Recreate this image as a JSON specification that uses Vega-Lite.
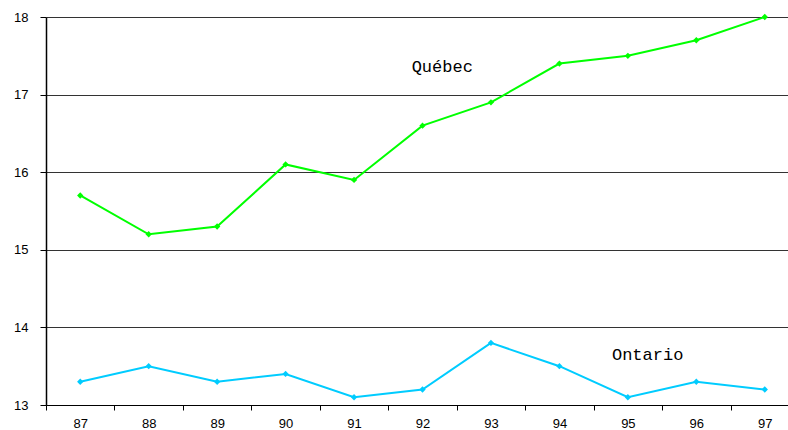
{
  "$schema": "https://vega.github.io/schema/vega-lite/v6.json",
  "width": 753,
  "height": 388,
  "autosize": {"type": "none"},
  "padding": {"left": 46, "top": 17, "right": 0, "bottom": 25},
  "background": "white",
  "config": {"view": {"stroke": null}},
  "datasets": {
    "series": [
      {"year": "87", "region": "Québec", "value": 15.7},
      {"year": "88", "region": "Québec", "value": 15.2},
      {"year": "89", "region": "Québec", "value": 15.3},
      {"year": "90", "region": "Québec", "value": 16.1},
      {"year": "91", "region": "Québec", "value": 15.9},
      {"year": "92", "region": "Québec", "value": 16.6},
      {"year": "93", "region": "Québec", "value": 16.9},
      {"year": "94", "region": "Québec", "value": 17.4},
      {"year": "95", "region": "Québec", "value": 17.5},
      {"year": "96", "region": "Québec", "value": 17.7},
      {"year": "97", "region": "Québec", "value": 18.0},
      {"year": "87", "region": "Ontario", "value": 13.3},
      {"year": "88", "region": "Ontario", "value": 13.5},
      {"year": "89", "region": "Ontario", "value": 13.3},
      {"year": "90", "region": "Ontario", "value": 13.4},
      {"year": "91", "region": "Ontario", "value": 13.1},
      {"year": "92", "region": "Ontario", "value": 13.2},
      {"year": "93", "region": "Ontario", "value": 13.8},
      {"year": "94", "region": "Ontario", "value": 13.5},
      {"year": "95", "region": "Ontario", "value": 13.1},
      {"year": "96", "region": "Ontario", "value": 13.3},
      {"year": "97", "region": "Ontario", "value": 13.2}
    ],
    "labels": [
      {"year": "92", "value": 17.36, "label": "Québec", "region": "Québec"},
      {"year": "95", "value": 13.64, "label": "Ontario", "region": "Ontario"}
    ]
  },
  "encoding": {
    "x": {
      "field": "year",
      "type": "ordinal",
      "scale": {"type": "band", "paddingInner": 0, "paddingOuter": 0},
      "axis": {
        "title": null,
        "labelAngle": 0,
        "tickBand": "extent",
        "domainColor": "#000",
        "tickColor": "#000",
        "tickSize": 5,
        "labelFont": "Liberation Sans",
        "labelFontSize": 13,
        "labelColor": "#000",
        "labelPadding": 7,
        "grid": false
      }
    },
    "y": {
      "field": "value",
      "type": "quantitative",
      "scale": {"domain": [13, 18], "nice": false, "zero": false},
      "axis": {
        "title": null,
        "values": [13, 14, 15, 16, 17, 18],
        "domainColor": "#000",
        "domainWidth": 1.5,
        "tickColor": "#000",
        "tickSize": 6,
        "labelFont": "Liberation Sans",
        "labelFontSize": 13,
        "labelColor": "#000",
        "labelPadding": 12,
        "grid": true,
        "gridColor": "#333",
        "gridOpacity": 1
      }
    },
    "color": {
      "field": "region",
      "type": "nominal",
      "scale": {"domain": ["Québec", "Ontario"], "range": ["#00ff00", "#00ccff"]},
      "legend": null
    }
  },
  "layer": [
    {
      "data": {"name": "series"},
      "mark": {"type": "line", "strokeWidth": 2, "point": {"shape": "diamond", "filled": true, "size": 40}},
      "encoding": {"detail": {"field": "region"}}
    },
    {
      "data": {"name": "labels"},
      "mark": {"type": "text", "font": "Liberation Mono", "fontSize": 17, "align": "center", "baseline": "middle"},
      "encoding": {
        "text": {"field": "label"},
        "color": {"value": "#000"},
        "xOffset": {"value": 54}
      }
    }
  ]
}
